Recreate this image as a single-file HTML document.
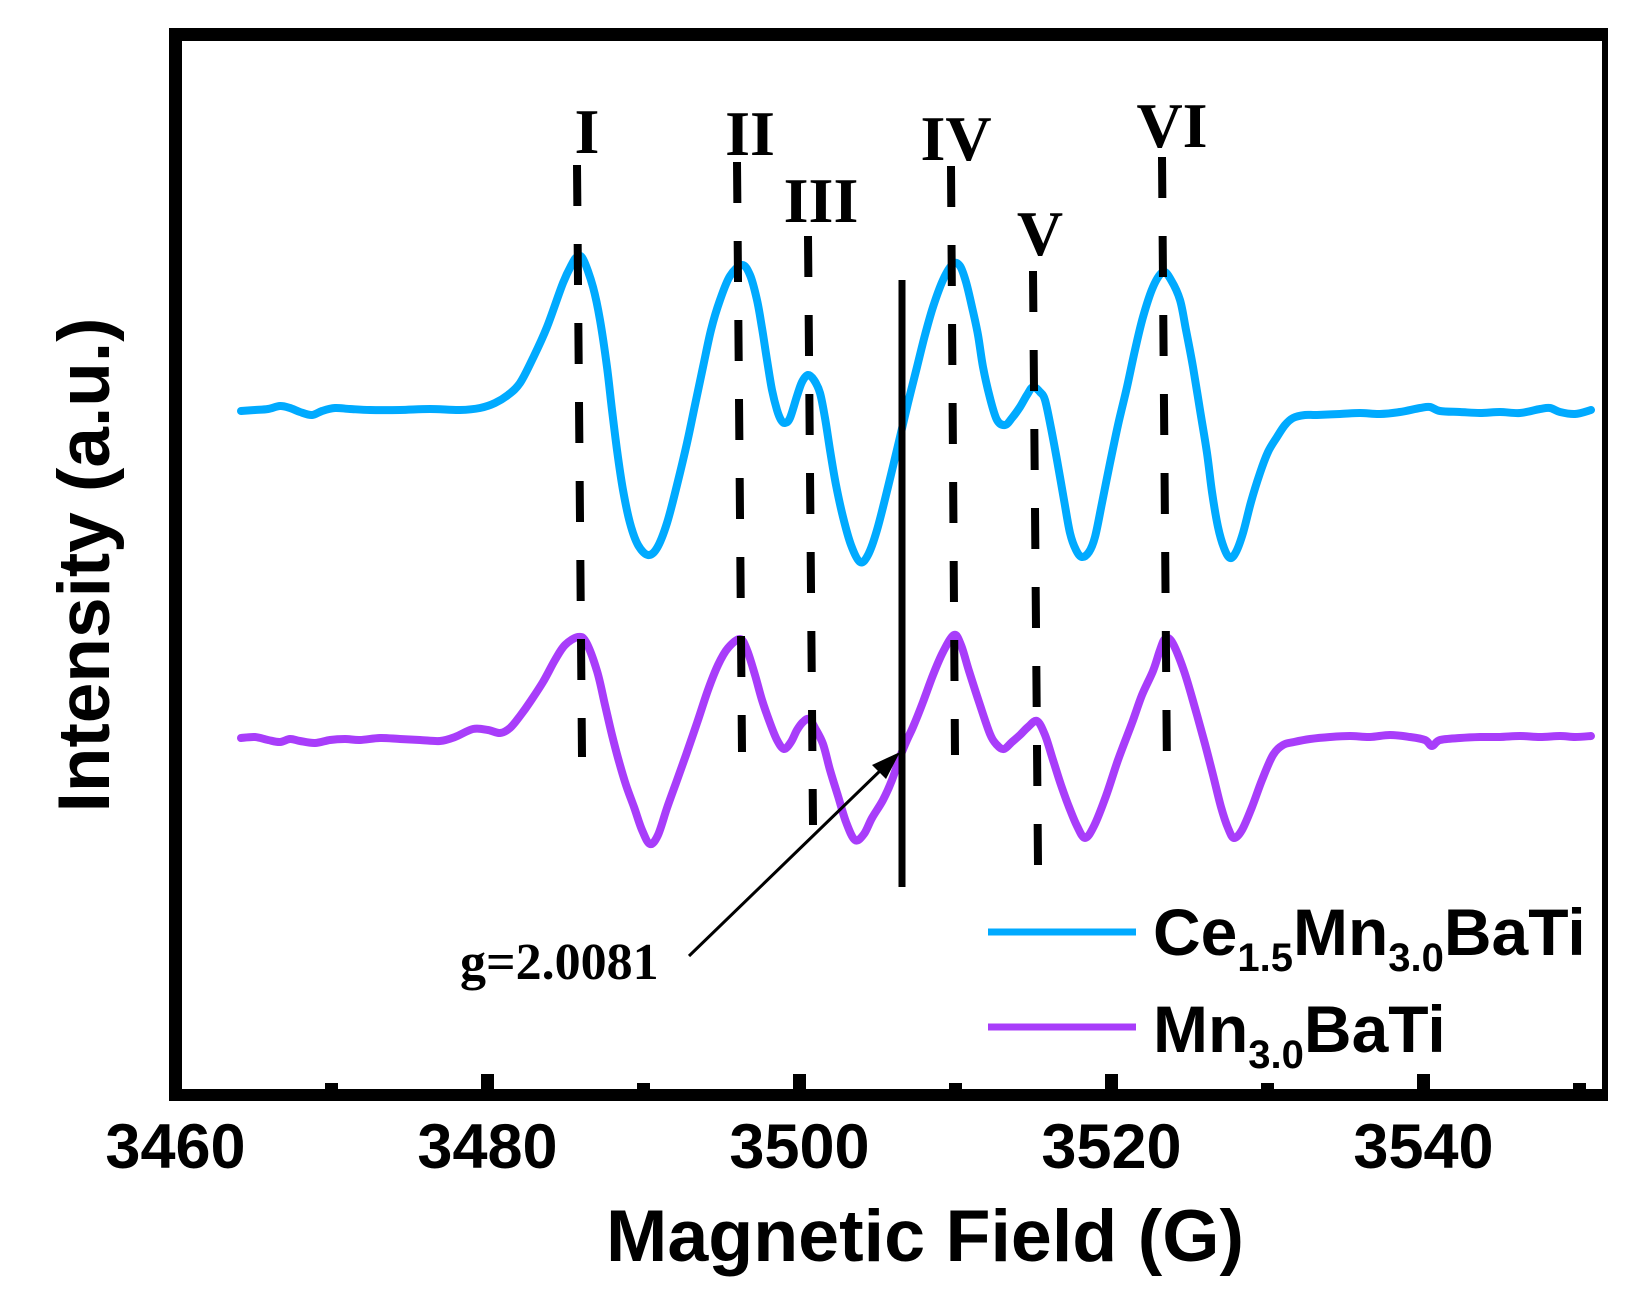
<!DOCTYPE html>
<html>
<head>
<meta charset="utf-8">
<style>
html,body{margin:0;padding:0;background:#fff;}
svg{display:block;}
</style>
</head>
<body>
<svg width="1640" height="1302" viewBox="0 0 1640 1302" xmlns="http://www.w3.org/2000/svg">
<rect x="0" y="0" width="1640" height="1302" fill="#fff"/>

<!-- curves -->
<polyline id="cb" fill="none" stroke="#00aaff" stroke-width="8" stroke-linejoin="round" stroke-linecap="round" points="241,411 255,410 268,409 280,406 290,408 300,412 312,415 322,411 335,408 350,409 370,410 400,410 430,409 460,410 480,408 495,403 508,395 520,383 533,358 547,327 563,283 572,264 577,257 583,259 593,287 600,320 607,367 612,410 617,450 623,490 630,523 638,545 648,555 657,548 667,523 677,485 687,443 695,405 703,367 711,330 720,300 730,276 742,265 750,275 757,300 762,328 767,360 772,390 777,410 781,420 785,423 790,418 797,396 802,382 808,375 814,380 820,393 825,418 830,450 836,485 843,517 851,545 860,562 868,555 877,530 888,487 900,437 908,403 917,367 925,335 933,307 943,280 953,264 960,266 966,282 972,307 978,335 983,367 990,398 997,420 1005,425 1012,418 1020,407 1027,395 1033,387 1040,392 1045,400 1051,428 1057,460 1064,500 1070,533 1076,550 1082,557 1089,552 1095,537 1102,503 1110,463 1118,425 1127,387 1135,350 1143,317 1153,287 1163,272 1171,280 1180,300 1186,330 1193,367 1200,410 1207,453 1212,492 1218,527 1224,548 1230,558 1236,552 1243,533 1251,502 1260,473 1268,452 1277,437 1285,425 1293,418 1305,415 1317,415 1340,414 1360,413 1380,414 1400,412 1420,408 1430,407 1440,411 1460,412 1480,413 1500,412 1520,413 1540,409 1550,408 1560,412 1575,414 1591,410"/>

<polyline id="cp" fill="none" stroke="#a83dfa" stroke-width="8" stroke-linejoin="round" stroke-linecap="round" points="241,738 255,737 268,740 280,742 290,739 300,741 315,743 330,740 345,739 360,740 380,738 400,739 420,740 440,741 455,737 473,729 488,730 500,733 510,728 520,716 530,702 543,682 555,660 565,645 578,637 586,642 597,671 605,705 612,735 618,758 626,785 634,807 642,830 650,844 658,835 667,808 676,783 686,755 697,723 708,690 718,665 728,648 740,639 747,650 755,675 762,700 770,723 777,740 784,749 791,742 797,730 803,722 809,719 815,728 823,744 830,770 838,796 846,822 855,840 864,834 872,818 883,800 892,780 900,757 907,740 913,727 923,702 933,675 943,652 954,635 961,645 969,671 979,702 990,734 997,745 1004,749 1012,742 1020,735 1028,727 1037,721 1045,735 1053,760 1061,785 1069,807 1077,826 1085,838 1094,826 1106,796 1118,760 1132,723 1142,695 1153,671 1160,650 1165,639 1172,642 1184,671 1195,708 1205,744 1213,775 1221,807 1228,828 1234,838 1242,830 1252,807 1262,780 1273,755 1283,745 1294,742 1310,739 1330,737 1350,736 1370,737 1390,735 1410,737 1425,740 1432,746 1440,740 1460,738 1480,737 1500,737 1520,736 1540,737 1560,736 1575,737 1591,736"/>

<!-- dashed peak lines -->
<g stroke="#000" stroke-width="8" stroke-dasharray="41 38" fill="none">
<line x1="577" y1="165" x2="582" y2="757"/>
<line x1="737" y1="162" x2="742" y2="752"/>
<line x1="808" y1="236" x2="813" y2="825"/>
<line x1="951" y1="166" x2="955" y2="755"/>
<line x1="1033" y1="271" x2="1038" y2="865"/>
<line x1="1162" y1="157" x2="1167" y2="776"/>
</g>

<!-- solid g line -->
<line x1="902" y1="280" x2="902" y2="887" stroke="#000" stroke-width="7"/>

<!-- arrow -->
<line x1="689" y1="956" x2="884" y2="767" stroke="#000" stroke-width="3"/>
<polygon points="900,752 872,765 886,779" fill="#000"/>

<!-- peak labels -->
<g font-family="'Liberation Serif', serif" font-weight="bold" font-size="64" fill="#000" text-anchor="middle">
<text x="587" y="153">I</text>
<text x="750" y="155">II</text>
<text x="821" y="222">III</text>
<text x="956" y="160">IV</text>
<text x="1040" y="255">V</text>
<text x="1172" y="147">VI</text>
</g>

<text x="460" y="979" font-family="'Liberation Serif', serif" font-weight="bold" font-size="52" fill="#000">g=2.0081</text>

<!-- legend -->
<line x1="988" y1="932" x2="1136" y2="932" stroke="#00aaff" stroke-width="7"/>
<line x1="988" y1="1027" x2="1136" y2="1027" stroke="#a83dfa" stroke-width="7"/>
<g font-family="'Liberation Sans', Arial, sans-serif" font-weight="bold" fill="#000">
<text x="1153" y="955" font-size="66">Ce<tspan font-size="40" dy="16">1.5</tspan><tspan dy="-16">Mn</tspan><tspan font-size="40" dy="16">3.0</tspan><tspan dy="-16">BaTi</tspan></text>
<text x="1153" y="1052" font-size="66">Mn<tspan font-size="40" dy="16">3.0</tspan><tspan dy="-16">BaTi</tspan></text>
</g>

<!-- frame -->
<rect x="169" y="28" width="1439" height="13" fill="#000"/>
<rect x="169" y="28" width="13" height="1073" fill="#000"/>
<rect x="169" y="1089" width="1439" height="12" fill="#000"/>
<rect x="1602" y="28" width="6" height="1073" fill="#000"/>

<!-- ticks -->
<g fill="#000">
<rect x="481" y="1074" width="13" height="16"/>
<rect x="793" y="1074" width="13" height="16"/>
<rect x="1105" y="1074" width="13" height="16"/>
<rect x="1417" y="1074" width="13" height="16"/>
<rect x="325" y="1083" width="13" height="7"/>
<rect x="637" y="1083" width="13" height="7"/>
<rect x="949" y="1083" width="13" height="7"/>
<rect x="1261" y="1083" width="13" height="7"/>
<rect x="1573" y="1083" width="13" height="7"/>
</g>

<!-- tick labels -->
<g font-family="'Liberation Sans', Arial, sans-serif" font-weight="bold" font-size="63" fill="#000" text-anchor="middle">
<text x="175.5" y="1168">3460</text>
<text x="487.5" y="1168">3480</text>
<text x="799.5" y="1168">3500</text>
<text x="1111.5" y="1168">3520</text>
<text x="1423.5" y="1168">3540</text>
</g>

<!-- axis titles -->
<text x="606" y="1261" font-family="'Liberation Sans', Arial, sans-serif" font-weight="bold" font-size="73" fill="#000" textLength="638" lengthAdjust="spacingAndGlyphs">Magnetic Field (G)</text>
<text transform="translate(109,565) rotate(-90)" x="0" y="0" text-anchor="middle" font-family="'Liberation Sans', Arial, sans-serif" font-weight="bold" font-size="73" fill="#000">Intensity (a.u.)</text>
</svg>
<script>
(function(){
  var ns="http://www.w3.org/2000/svg";
  ["cb","cp"].forEach(function(id){
    var pl=document.getElementById(id);
    if(!pl) return;
    var raw=pl.getAttribute("points").trim().split(/\s+/).map(function(s){var a=s.split(",");return [+a[0],+a[1]];});
    var n=raw.length; if(n<3) return;
    var d="M"+raw[0][0]+","+raw[0][1];
    for(var i=0;i<n-1;i++){
      var p0=raw[i>0?i-1:0],p1=raw[i],p2=raw[i+1],p3=raw[i+2<n?i+2:n-1];
      var t=1/6;
      var c1x=p1[0]+(p2[0]-p0[0])*t,c1y=p1[1]+(p2[1]-p0[1])*t;
      var c2x=p2[0]-(p3[0]-p1[0])*t,c2y=p2[1]-(p3[1]-p1[1])*t;
      d+=" C"+c1x.toFixed(1)+","+c1y.toFixed(1)+" "+c2x.toFixed(1)+","+c2y.toFixed(1)+" "+p2[0]+","+p2[1];
    }
    var p=document.createElementNS(ns,"path");
    p.setAttribute("d",d);
    ["fill","stroke","stroke-width","stroke-linejoin","stroke-linecap"].forEach(function(a){p.setAttribute(a,pl.getAttribute(a));});
    pl.parentNode.replaceChild(p,pl);
  });
})();
</script>
</body>
</html>
